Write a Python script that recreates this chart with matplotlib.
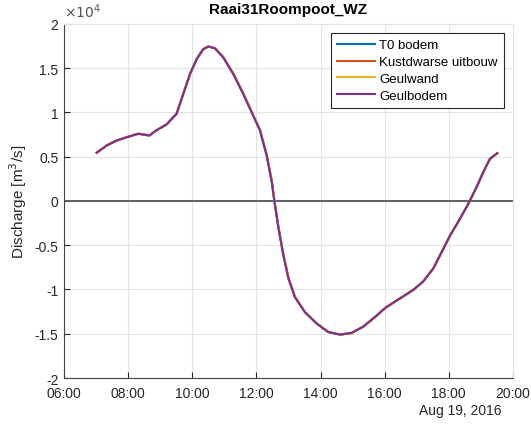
import numpy as np
import pandas as pd
import matplotlib
matplotlib.use("Agg")
import matplotlib.pyplot as plt
import matplotlib.dates as mdates

plt.rcParams['font.family'] = ['Liberation Sans', 'DejaVu Sans']

# tijdstippen (uur op 19 aug 2016) en debiet in m3/s
uren = [7.02, 7.33, 7.64, 7.95, 8.32, 8.66, 8.89, 9.20, 9.51, 9.72, 9.93, 10.14, 10.34,
        10.50, 10.71, 10.97, 11.28, 11.59, 11.90, 12.11, 12.32, 12.48, 12.56, 12.69, 12.84,
        13.00, 13.20, 13.51, 13.88, 14.24, 14.61, 14.97, 15.33, 15.70, 16.03, 16.48,
        16.89, 17.20, 17.52, 17.78, 18.04, 18.35, 18.61, 18.87, 19.08, 19.28, 19.51]
q_t0 = [5450, 6270, 6830, 7200, 7600, 7400, 8000, 8650, 9850, 12100, 14350, 16050, 17150,
        17450, 17250, 16200, 14350, 12100, 9650, 8000, 5150, 2150, 0, -3100, -6100,
        -8750, -10850, -12550, -13850, -14800, -15100, -14900, -14200, -13100, -12050, -11000,
        -10050, -9100, -7600, -5750, -3900, -2000, -300, 1600, 3300, 4750, 5400]
q_kust = [5450, 6270, 6830, 7200, 7600, 7400, 8000, 8650, 9850, 12100, 14350, 16050, 17150,
          17450, 17270, 16250, 14400, 12170, 9720, 8070, 5250, 2250, 100, -3000, -6000,
          -8680, -10800, -12530, -13850, -14800, -15100, -14920, -14220, -13120, -12050, -11000,
          -10050, -9100, -7600, -5750, -3900, -2000, -300, 1600, 3300, 4750, 5400]
q_geulwand = [5450, 6270, 6830, 7200, 7600, 7400, 8000, 8650, 9850, 12100, 14350, 16050, 17150,
              17450, 17280, 16280, 14430, 12200, 9750, 8100, 5280, 2280, 130, -2970, -5970,
              -8650, -10780, -12500, -13830, -14780, -15100, -14930, -14250, -13150, -12050, -11000,
              -10050, -9100, -7600, -5750, -3900, -2000, -300, 1600, 3300, 4750, 5400]
q_geulbodem = [5450, 6270, 6830, 7200, 7600, 7400, 8000, 8650, 9850, 12100, 14350, 16050, 17150,
               17450, 17250, 16200, 14350, 12100, 9650, 8000, 5150, 2150, 0, -3100, -6100,
               -8750, -10850, -12550, -13850, -14800, -15100, -14900, -14200, -13100, -12050, -11000,
               -10050, -9100, -7600, -5750, -3900, -2000, -300, 1600, 3300, 4750, 5400]

namen = ['T0 bodem', 'Kustdwarse uitbouw', 'Geulwand', 'Geulbodem']
kleuren = ['#0072BD', '#D95319', '#EDB120', '#7E2F8E']

dag = pd.Timestamp('2016-08-19')
tijd = [dag + pd.Timedelta(hours=h) for h in uren]

fig = plt.figure(figsize=(5.31, 4.27), dpi=100)
ax = fig.add_axes([0.1205, 0.1124, 0.8455, 0.8291])

tekst = '#262626'
for q, naam, kl in zip([q_t0, q_kust, q_geulwand, q_geulbodem], namen, kleuren):
    ax.plot(tijd, q, color=kl, lw=1.5, label=naam, solid_joinstyle='round')

ax.axhline(0, color='#555555', lw=1.3, zorder=1)

ax.set_xlim(dag + pd.Timedelta(hours=6), dag + pd.Timedelta(hours=20))
ax.set_ylim(-20000, 20000)
ax.xaxis.set_major_locator(mdates.HourLocator(byhour=range(6, 21, 2)))
ax.xaxis.set_major_formatter(mdates.DateFormatter('%H:%M'))
yt = np.arange(-20000, 20001, 5000)
ax.set_yticks(yt)
ax.set_yticklabels(['%g' % (v / 1e4) for v in yt])

ax.grid(True, color='#e3e3e3', lw=0.8)
ax.set_axisbelow(True)
ax.tick_params(direction='in', length=4, colors=tekst, labelsize=10, width=0.8, pad=4)
ax.tick_params(axis='x', pad=6)
for s in ['left', 'bottom']:
    ax.spines[s].set_color('#444444')
for s in ['top', 'right']:
    ax.spines[s].set_color('#e3e3e3')

ax.set_ylabel('Discharge [m$^3$/s]', fontsize=11, color=tekst)
ax.set_title('Raai31Roompoot_WZ', fontsize=11, fontweight='bold', pad=8)
ax.text(0.0, 1.01, r'$\times10^4$', transform=ax.transAxes, fontsize=10, color='#555555',
        ha='left', va='bottom')
fig.text(0.945, 0.022, 'Aug 19, 2016', ha='right', va='bottom', fontsize=10, color=tekst)

leg = ax.legend(loc='upper right', fontsize=9.5, fancybox=False, framealpha=1,
                edgecolor='#262626', handlelength=2.9, borderaxespad=0.7,
                labelspacing=0.35, borderpad=0.45, handletextpad=0.3)
leg.get_frame().set_linewidth(0.8)

fig.savefig('out.png', dpi=100)
